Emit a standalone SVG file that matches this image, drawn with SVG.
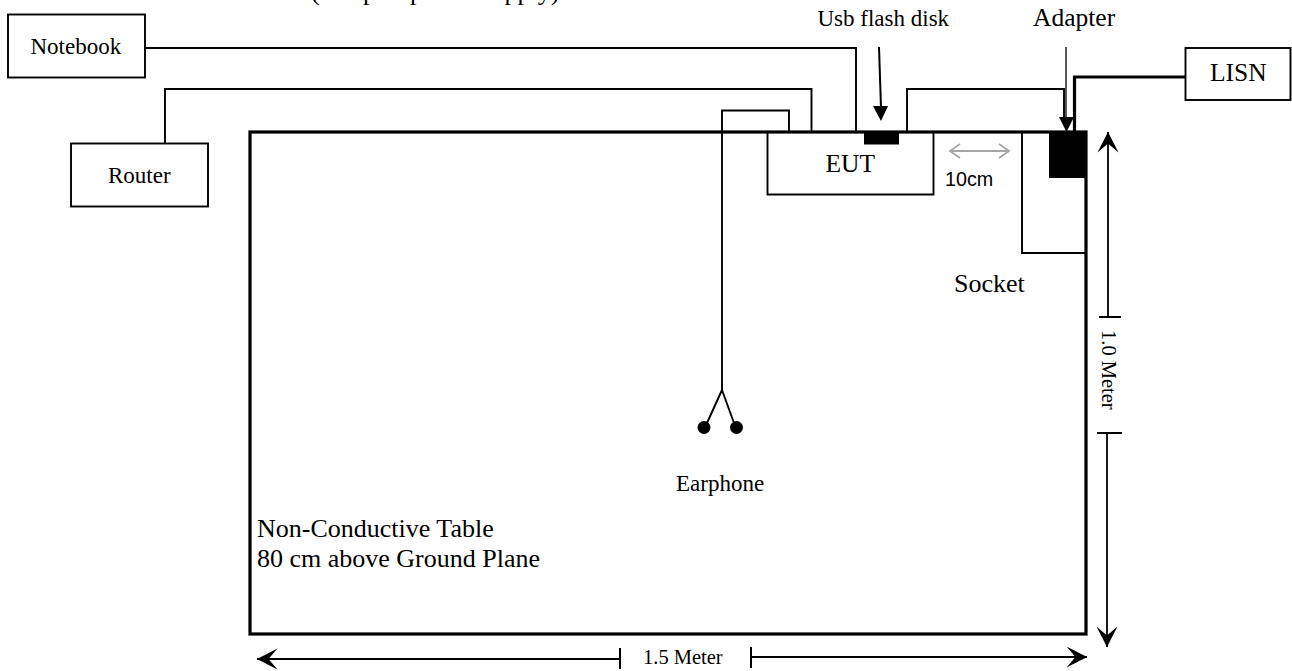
<svg xmlns="http://www.w3.org/2000/svg" width="1292" height="671" viewBox="0 0 1292 671">
<defs>
<style>
text{font-family:"Liberation Serif","Times New Roman",serif;fill:#000}
.box{fill:#fff;stroke:#000;stroke-width:1.900}
.w{fill:none;stroke:#000;stroke-width:1.900}
.d{fill:none;stroke:#000;stroke-width:1.800;marker-end:url(#chev)}
.t{fill:none;stroke:#000;stroke-width:2}
</style>
<marker id="chev" markerUnits="userSpaceOnUse" viewBox="0 -11 21 22" refX="20.500" refY="0" markerWidth="21" markerHeight="22" orient="auto"><path d="M20.500 0L0 -10.500L9 0L0 10.500Z" fill="#000"/></marker>
</defs>
<rect width="1292" height="671" fill="#fff"/>
<text x="311" y="-0.500" font-size="26">(Adapter power supply)</text>
<g id="connectors">
<path class="w" d="M145 48H856V132"/>
<path class="w" d="M165 143V89H811.500V132"/>
<path class="w" d="M722 132V110.500H789V132"/>
<path class="w" d="M722 132V390"/>
<path class="w" d="M722 390L707 423M722 390L734 423"/>
<path class="w" d="M907 132V89H1064V118"/>
<path d="M1185 77H1074.500V132" fill="none" stroke="#000" stroke-width="3.200"/>
<path d="M879 47L881 108" fill="none" stroke="#000" stroke-width="2"/>
<path d="M873 106H888L881 121Z" fill="#000"/>
<path d="M1066 47V118" fill="none" stroke="#000" stroke-width="1.300"/>
<path d="M1059 117H1074L1066.500 132Z" fill="#000"/>
<path d="M950 151H1009M960 144L950 151L960 158M999 144L1009 151L999 158" fill="none" stroke="#a6a6a6" stroke-width="1.800"/>
<path class="d" d="M1108 317V132"/><path class="t" d="M1099 317H1121"/>
<path class="d" d="M1107 433V647"/><path class="t" d="M1097 433H1122"/>
<path class="d" d="M620 659H257"/><path class="t" d="M620 648V669"/>
<path class="d" d="M751 657H1087"/><path class="t" d="M751 647V668"/>
</g>
<g id="table"><rect x="250" y="132" width="836" height="502" fill="none" stroke="#000" stroke-width="3.200"/>
<text x="257" y="537" font-size="26">Non-Conductive Table</text>
<text x="257" y="567" font-size="26">80 cm above Ground Plane</text></g>
<g id="notebook"><rect class="box" x="8" y="14.500" width="137" height="63"/><text x="30.500" y="53.500" font-size="23">Notebook</text></g>
<g id="router"><rect class="box" x="71" y="143.500" width="137" height="63"/><text x="108" y="182.500" font-size="23">Router</text></g>
<g id="lisn"><rect class="box" x="1185.500" y="48" width="105" height="52"/><text x="1210" y="81" font-size="25.500">LISN</text></g>
<g id="eut"><path class="w" d="M767.500 132V194.500H933.500V132"/><text x="825.500" y="172" font-size="25.500">EUT</text></g>
<g id="usb"><rect x="864" y="132" width="35" height="12.500" fill="#000"/><text x="817.500" y="26" font-size="23">Usb flash disk</text></g>
<g id="socket"><path class="w" d="M1022 132V253H1086"/><text x="954" y="292" font-size="26">Socket</text></g>
<g id="adapter"><rect x="1049" y="132" width="38" height="46" fill="#000"/><text x="1033" y="26" font-size="25.500">Adapter</text></g>
<g id="earphone"><circle cx="704" cy="427.500" r="6.500" fill="#000"/><circle cx="736.500" cy="427.500" r="6.500" fill="#000"/><text x="676" y="491" font-size="23">Earphone</text></g>
<text x="945" y="186" font-size="19.700" style="font-family:'Liberation Sans',Arial,sans-serif">10cm</text>
<text x="643" y="664" font-size="20.500">1.5 Meter</text>
<text transform="translate(1101.500 330) rotate(90)" font-size="20.500">1.0 Meter</text>
</svg>
